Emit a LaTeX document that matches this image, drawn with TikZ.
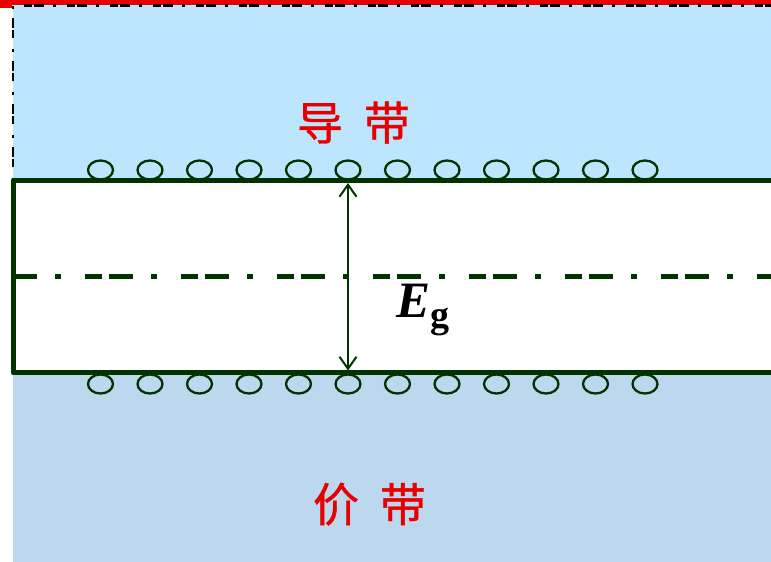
\documentclass[tikz,border=0pt]{standalone}
\usepackage{fontspec}
\usetikzlibrary{arrows.meta}
\newfontfamily\cjk{Noto Sans CJK SC}[FakeBold=0.8]
\newfontfamily\tnr{Liberation Serif}
\definecolor{bandred}{RGB}{230,0,0}
\definecolor{upblue}{RGB}{190,229,254}
\definecolor{lowblue}{RGB}{189,215,238}
\definecolor{dkgreen}{RGB}{0,51,0}
\tikzset{
  edgeline/.style={draw=dkgreen, line width=5pt, line join=round},
  midline/.style={draw=dkgreen, line width=5pt, dash pattern=on 24pt off 18pt on 6pt off 24pt on 17pt off 7pt},
  border/.style={draw=black, line width=2.2pt, dash pattern=on 3pt off 11pt on 8pt off 2pt on 10pt off 9pt},
  level/.style={draw=dkgreen, line width=2.3pt, ellipse, minimum width=25pt, minimum height=19pt, inner sep=0pt},
  bandlabel/.style={text=bandred, anchor=base, inner sep=0pt, font=\cjk\fontsize{46}{46}\selectfont},
  gaparrow/.style={draw=dkgreen, line width=2pt, {Straight Barb[length=12pt,width=17pt]}-{Straight Barb[length=12pt,width=17pt]}}
}
\usetikzlibrary{shapes.geometric}
\begin{document}
\begin{tikzpicture}[x=1pt,y=-1pt]
\useasboundingbox (0,0) rectangle (771,562);
\clip (0,0) rectangle (771,562);
% fills
\fill[upblue] (13,5) rectangle (771,181);
\fill[lowblue] (13,373) rectangle (771,562);
\fill[white] (13,181) rectangle (771,373);
% red band at top
\fill[bandred] (0,0) rectangle (771,4.5);
\fill[bandred] (0,0) rectangle (12,8);
% dash-dot border
\coordinate (b1) at (13,181);
\coordinate (b2) at (13,5.5);
\coordinate (b3) at (771,5.5);
\draw[border] (b1) -- (b2) -- (b3);
% band edges
\coordinate (tr) at (780,180.5);
\coordinate (tl) at (13,180.5);
\coordinate (bl) at (13,372.5);
\coordinate (br) at (780,372.5);
% mid line
\coordinate (m1) at (13,276);
\coordinate (m2) at (780,276);
\draw[midline] (m1) -- (m2);
% levels
\foreach \i in {0,...,11}{
  \node[level] (u\i) at ({100.5+49.5*\i},170) {};
  \node[level] (d\i) at ({100.5+49.5*\i},384) {};
}
% band edges over the circles
\draw[edgeline] (tr) -- (tl) -- (bl) -- (br);
% gap arrow
\coordinate (gtop) at (348,183);
\coordinate (gbot) at (348,370.5);
\draw[gaparrow] (gtop) -- (gbot);
% labels
\node[anchor=base west, inner sep=0pt] (eg) at (396,317.5) {\tnr\bfseries\fontsize{51}{51}\selectfont\textit{E}\raisebox{-10pt}{\fontsize{38}{38}\selectfont g}};
\node[bandlabel] (cb) at (353.5,140) {导\hspace{21pt}带};
\node[bandlabel] (vb) at (369.5,521.5) {价\hspace{21pt}带};
\end{tikzpicture}
\end{document}
